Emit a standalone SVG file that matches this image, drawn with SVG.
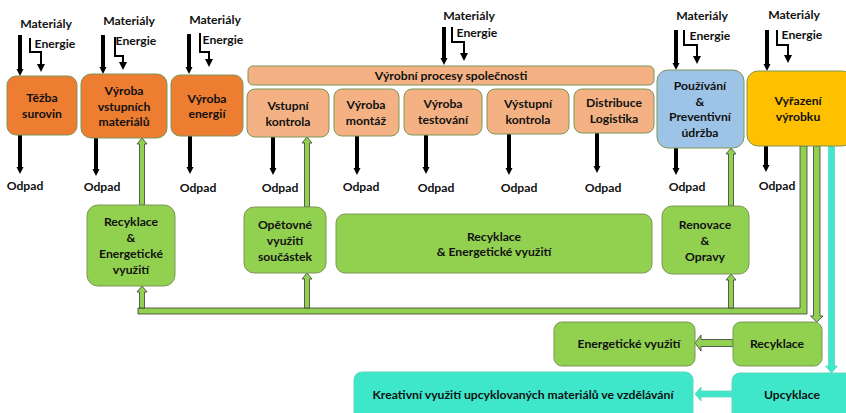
<svg xmlns="http://www.w3.org/2000/svg" width="846" height="413" viewBox="0 0 846 413">
<style>
text{font-family:Lato,"Liberation Sans",sans-serif;font-weight:bold;font-size:12.2px;fill:#111;text-anchor:middle}
.box{stroke:#7c9658;stroke-width:1}
.o{fill:#ED7D31}.lo{fill:#F4B183}.bl{fill:#9DC3E6}.y{fill:#FFC000}.g{fill:#92D050}.c{fill:#3EE6CA;stroke:#5fd8c0}
.blk{stroke:#000;stroke-width:4;fill:none}
.en{stroke:#000;stroke-width:2;fill:none}
.ga{fill:#92D050;stroke:#3a3a3a;stroke-width:0.8}
.ca{fill:#3EE6CA;stroke:#5fd8c0;stroke-width:0.8}
</style>
<defs>
<marker id="ah" viewBox="0 0 10 10" refX="0" refY="5" markerWidth="1.75" markerHeight="2.3" orient="auto" markerUnits="strokeWidth"><path d="M0,0 L10,5 L0,10 Z" fill="#000"/></marker>
<marker id="ah2" viewBox="0 0 10 10" refX="0" refY="5" markerWidth="4" markerHeight="4.5" orient="auto" markerUnits="strokeWidth"><path d="M0,0 L10,5 L0,10 Z" fill="#000"/></marker>
</defs>

<g id="connectors">
<!-- inputs -->
<path class="blk" d="M20,35 V69" marker-end="url(#ah)"/>
<path class="en" d="M30,38 V52 H41 V64" marker-end="url(#ah2)"/>
<path class="blk" d="M103,35 V67" marker-end="url(#ah)"/>
<path class="en" d="M115,37 V56 H123 V62" marker-end="url(#ah2)"/>
<path class="blk" d="M189,34 V67" marker-end="url(#ah)"/>
<path class="en" d="M200,33 V52 H209 V59" marker-end="url(#ah2)"/>
<path class="blk" d="M444,27 V58" marker-end="url(#ah)"/>
<path class="en" d="M452,27 V42 H464 V53" marker-end="url(#ah2)"/>
<path class="blk" d="M676,30 V63" marker-end="url(#ah)"/>
<path class="en" d="M684,30 V45 H697 V56" marker-end="url(#ah2)"/>
<path class="blk" d="M767,30 V64" marker-end="url(#ah)"/>
<path class="en" d="M777,30 V45 H788 V55" marker-end="url(#ah2)"/>
<!-- waste -->
<path class="blk" d="M20,135 V167" marker-end="url(#ah)"/>
<path class="blk" d="M96,138 V169" marker-end="url(#ah)"/>
<path class="blk" d="M190,136 V167" marker-end="url(#ah)"/>
<path class="blk" d="M273,137 V168" marker-end="url(#ah)"/>
<path class="blk" d="M357,136 V168" marker-end="url(#ah)"/>
<path class="blk" d="M426,135 V167" marker-end="url(#ah)"/>
<path class="blk" d="M509,134 V168" marker-end="url(#ah)"/>
<path class="blk" d="M597,133 V166" marker-end="url(#ah)"/>
<path class="blk" d="M676,148 V168" marker-end="url(#ah)"/>
<path class="blk" d="M766,146 V165" marker-end="url(#ah)"/>
<!-- green return loop -->
<polygon class="ga" points="800,146 807,146 807,314 138,314 138,308 800,308"/>
<polygon class="ga" points="139.5,308 139.5,292 137,292 142,286 147,292 144.5,292 144.5,308"/>
<polygon class="ga" points="304.5,308 304.5,279 302,279 307,273 312,279 309.5,279 309.5,308"/>
<polygon class="ga" points="728.5,308 728.5,280 726,280 731,274 736,280 733.5,280 733.5,308"/>
<polygon class="ga" points="139.5,205 139.5,144 137,144 142,138 147,144 144.5,144 144.5,205"/>
<polygon class="ga" points="304.5,207 304.5,143 302,143 307,137 312,143 309.5,143 309.5,207"/>
<polygon class="ga" points="728.5,206 728.5,154 726,154 731,148 736,154 733.5,154 733.5,206"/>
<polygon class="ga" points="813.5,146 820,146 820,316 823,316 816.75,322 810.5,316 813.5,316"/>
<polygon class="ga" points="733,339.5 701,339.5 701,335 695,343 701,351 701,346.5 733,346.5"/>
<polygon class="ca" points="828.5,146 834.5,146 834.5,366 837.5,366 831.5,373 825.5,366 828.5,366"/>
<polygon class="ca" points="732,391 701,391 701,387 695,394 701,401 701,397 732,397"/>
</g>

<g id="n-tezba"><rect class="box o" x="7" y="76" width="70" height="59" rx="9"/><text x="42" y="102">Těžba</text><text x="42" y="118">surovin</text></g>
<g id="n-vstupni-mat"><rect class="box o" x="81" y="74" width="86" height="64" rx="10"/><text x="124" y="95">Výroba</text><text x="124" y="111">vstupních</text><text x="124" y="126">materiálů</text></g>
<g id="n-energie"><rect class="box o" x="171" y="75" width="72" height="61" rx="9"/><text x="207" y="103">Výroba</text><text x="207" y="118">energií</text></g>
<g id="n-procesy"><rect class="box lo" x="248" y="66" width="406" height="19" rx="5"/><text x="451" y="80">Výrobní procesy společnosti</text></g>
<g id="n-vstupni-kontrola"><rect class="box lo" x="247" y="89" width="82" height="48" rx="8"/><text x="288" y="110">Vstupní</text><text x="288" y="126">kontrola</text></g>
<g id="n-montaz"><rect class="box lo" x="334" y="89" width="65" height="47" rx="8"/><text x="366" y="109">Výroba</text><text x="366" y="125">montáž</text></g>
<g id="n-testovani"><rect class="box lo" x="404" y="89" width="78" height="46" rx="8"/><text x="443" y="108">Výroba</text><text x="443" y="124">testování</text></g>
<g id="n-vystupni"><rect class="box lo" x="487" y="89" width="82" height="45" rx="8"/><text x="528" y="108">Výstupní</text><text x="528" y="124">kontrola</text></g>
<g id="n-distribuce"><rect class="box lo" x="574" y="89" width="80" height="44" rx="8"/><text x="614" y="107">Distribuce</text><text x="614" y="123">Logistika</text></g>
<g id="n-pouzivani"><rect class="box bl" x="657" y="70" width="87" height="78" rx="11"/><text x="700" y="90">Používání</text><text x="700" y="106">&amp;</text><text x="700" y="121">Preventivní</text><text x="700" y="137">údržba</text></g>
<g id="n-vyrazeni"><rect class="box y" x="747" y="71" width="106" height="75" rx="11"/><text x="798" y="105">Vyřazení</text><text x="798" y="121">výrobku</text></g>

<g id="n-recyklace-left"><rect class="box g" x="87" y="205" width="88" height="81" rx="11"/><text x="131" y="226">Recyklace</text><text x="131" y="242">&amp;</text><text x="131" y="258">Energetické</text><text x="131" y="274">využití</text></g>
<g id="n-opetovne"><rect class="box g" x="244" y="207" width="82" height="66" rx="10"/><text x="285" y="229">Opětovné</text><text x="285" y="245">využití</text><text x="285" y="261">součástek</text></g>
<g id="n-recyklace-big"><rect class="box g" x="336" y="214" width="316" height="59" rx="9"/><text x="494" y="241">Recyklace</text><text x="494" y="256">&amp; Energetické využití</text></g>
<g id="n-renovace"><rect class="box g" x="662" y="206" width="87" height="68" rx="10"/><text x="705" y="229">Renovace</text><text x="705" y="245">&amp;</text><text x="705" y="261">Opravy</text></g>
<g id="n-energeticke"><rect class="box g" x="554" y="322" width="141" height="44" rx="8"/><text x="629" y="348">Energetické využití</text></g>
<g id="n-recyklace"><rect class="box g" x="733" y="322" width="89" height="44" rx="8"/><text x="777" y="348">Recyklace</text></g>
<g id="n-kreativni"><rect class="box c" x="354" y="372" width="339" height="50" rx="8"/><text x="523" y="399">Kreativní využití upcyklovaných materiálů ve vzdělávání</text></g>
<g id="n-upcyklace"><rect class="box c" x="732" y="373" width="130" height="50" rx="8"/><text x="792" y="399">Upcyklace</text></g>

<g id="labels">
<text x="46" y="28">Materiály</text><text x="55" y="48">Energie</text>
<text x="129" y="25">Materiály</text><text x="136" y="45">Energie</text>
<text x="215" y="24">Materiály</text><text x="223" y="44">Energie</text>
<text x="469" y="20">Materiály</text><text x="477" y="37">Energie</text>
<text x="702" y="20">Materiály</text><text x="710" y="40">Energie</text>
<text x="794" y="19">Materiály</text><text x="802" y="39">Energie</text>
<text x="25" y="190">Odpad</text><text x="102" y="191">Odpad</text><text x="198" y="192">Odpad</text>
<text x="280" y="192">Odpad</text><text x="361" y="191">Odpad</text><text x="436" y="192">Odpad</text>
<text x="519" y="192">Odpad</text><text x="603" y="192">Odpad</text><text x="687" y="191">Odpad</text><text x="777" y="190">Odpad</text>
</g>
</svg>
